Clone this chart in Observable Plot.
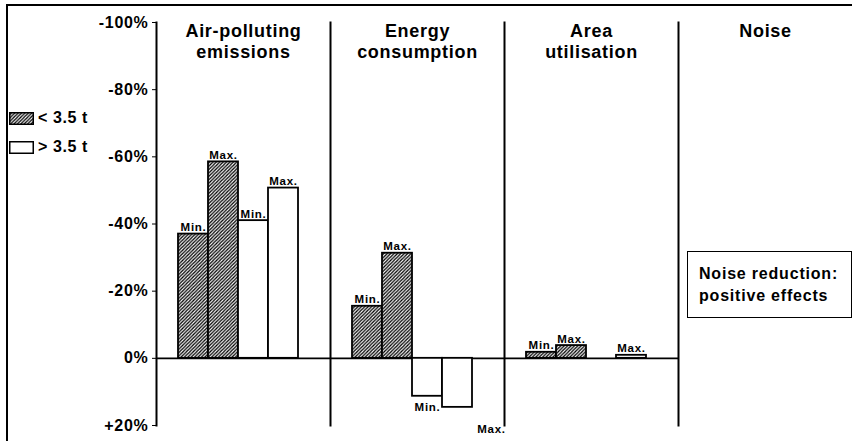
<!DOCTYPE html>
<html>
<head>
<meta charset="utf-8">
<script src="https://cdn.jsdelivr.net/npm/d3@7"></script>
<script src="https://cdn.jsdelivr.net/npm/@observablehq/plot@0.6"></script>
<style>
  html, body { margin: 0; padding: 0; background: #fff; }
  #wrap { position: relative; width: 852px; height: 441px; overflow: hidden;
          font-family: "Liberation Sans", Arial, sans-serif; font-weight: bold; color: #000; }
  #wrap svg.chart { position: absolute; left: 0; top: 0; }
  #border { position: absolute; left: 6px; top: 4px; right: -10px; bottom: -10px;
            border-left: 2px solid #000; border-top: 2px solid #000; }
  .leg { position: absolute; left: 9px; display: flex; align-items: center;
         font-size: 16px; letter-spacing: 0.6px; white-space: nowrap; }
  .leg svg { margin-right: 4px; }
  #note { position: absolute; left: 687px; top: 251px; width: 152px; height: 65px;
          border: 1.5px solid #000; display: flex; flex-direction: column; justify-content: center;
          padding-left: 11px; box-sizing: content-box; font-size: 16px; line-height: 22px; letter-spacing: 0.8px; }
</style>
</head>
<body>
<div id="wrap">
  <div id="border"></div>
</div>
<script>
// ---- data ----
const panels = ["Air-polluting\nemissions", "Energy\nconsumption", "Area\nutilisation", "Noise"];
const series = ["hMin", "hMax", "oMin", "oMax"];
const seriesLabel = ["Min.", "Max.", "Min.", "Max."];
const seriesKind = ["hatched", "hatched", "open", "open"];
const hatchedMin = [-37, -15.5, -1.8, null];
const hatchedMax = [-58.5, -31.3, -3.8, null];
const openMin = [-41, 11.3, null, null];
const openMax = [-50.7, 14.6, -0.9, null];
const yTicks = [-100, -80, -60, -40, -20, 0, 20];
const yTickLabels = ["-100%", "-80%", "-60%", "-40%", "-20%", "0%", "+20%"];
const legendLabels = ["< 3.5 t", "> 3.5 t"];
const legendKinds = ["hatched", "open"];
const noiseNote = ["Noise reduction:", "positive effects"];

// ---- table built from the arrays ----
const valuesBySeries = [hatchedMin, hatchedMax, openMin, openMax];
const rows = [];
panels.forEach((p, i) => {
  series.forEach((s, j) => {
    const v = valuesBySeries[j][i];
    if (v != null) rows.push({panel: p, slot: s, value: v, kind: seriesKind[j], label: seriesLabel[j]});
  });
});
const barPanels = panels.filter(p => rows.some(r => r.panel === p));
const hatchFill = "url(#hatch)";
const font = "'Liberation Sans', Arial, sans-serif";

const chart = Plot.plot({
  width: 852,
  height: 441,
  marginLeft: 155,
  marginRight: 0,
  marginTop: 22,
  marginBottom: 16,
  style: {fontFamily: font, fontWeight: "bold", fontSize: "16px", background: "transparent", color: "#000", letterSpacing: "0.7px", overflow: "visible"},
  fx: {domain: panels, padding: 0, axis: null},
  x: {domain: series, paddingInner: 0, paddingOuter: 0.9, align: 0.4, axis: null},
  y: {domain: [20, -100], ticks: yTicks, tickFormat: d => yTickLabels[yTicks.indexOf(d)],
      tickSize: 4, tickPadding: 4, label: null},
  marks: [
    Plot.frame({anchor: "left", stroke: "#000", strokeWidth: 2}),
    Plot.ruleY(barPanels, {fx: d => d, y: () => 0, stroke: "#000", strokeWidth: 1.6}),
    Plot.barY(rows.filter(r => r.kind === "hatched"), {fx: "panel", x: "slot", y: "value",
      fill: hatchFill, stroke: "#000", strokeWidth: 1.8, inset: 0}),
    Plot.barY(rows.filter(r => r.kind === "open"), {fx: "panel", x: "slot", y: "value",
      fill: "#fff", stroke: "#000", strokeWidth: 1.8, inset: 0}),
    // labels above reduction bars
    Plot.text(rows.filter(r => r.value < 0), {fx: "panel", x: "slot", y: "value", text: "label",
      lineAnchor: "bottom", dy: -3, fontSize: 11.5, fill: "#000"}),
    // labels below increase bars
    Plot.text(rows.filter(r => r.value > 0 && r.label === "Min."), {fx: "panel", x: "slot", y: "value", text: "label",
      lineAnchor: "top", dy: 7, fontSize: 11.5, fill: "#000"}),
    Plot.text(rows.filter(r => r.value > 0 && r.label === "Max."), {fx: "panel", x: "slot", y: "value", text: "label",
      lineAnchor: "top", dy: 17, dx: 34, fontSize: 11.5, fill: "#000"}),
    // panel titles
    Plot.text(panels, {fx: d => d, text: d => d, frameAnchor: "top", lineAnchor: "top",
      fontSize: 18, lineHeight: 1.14, dy: 0, fill: "#000"})
  ]
});
chart.classList.add("chart");

d3.select(chart).insert("defs", ":first-child").html(
  '<pattern id="hatch" patternUnits="userSpaceOnUse" width="3.4" height="3.4">' +
  '<rect width="3.4" height="3.4" fill="#fff"/>' +
  '<path d="M-0.85,0.85 l1.7,-1.7 M0,3.4 l3.4,-3.4 M2.55,4.25 l1.7,-1.7" stroke="#000" stroke-width="1.3"/>' +
  '</pattern>'
);

const wrap = document.getElementById("wrap");
wrap.insertBefore(chart, wrap.firstChild);

// legend
const legTops = [112, 141];
legendLabels.forEach((lab, i) => {
  const div = document.createElement("div");
  div.className = "leg";
  div.style.top = (legTops[i] - 3) + "px";
  const fill = legendKinds[i] === "hatched" ? hatchFill : "#fff";
  div.innerHTML = `<svg width="25" height="13"><rect x="0.75" y="0.75" width="23.5" height="11.5" fill="${fill}" stroke="#000" stroke-width="1.5"/></svg><span></span>`;
  div.querySelector("span").textContent = lab;
  wrap.appendChild(div);
});

// noise note
const note = document.createElement("div");
note.id = "note";
noiseNote.forEach(t => { const d = document.createElement("div"); d.textContent = t; note.appendChild(d); });
wrap.appendChild(note);
</script>
</body>
</html>
